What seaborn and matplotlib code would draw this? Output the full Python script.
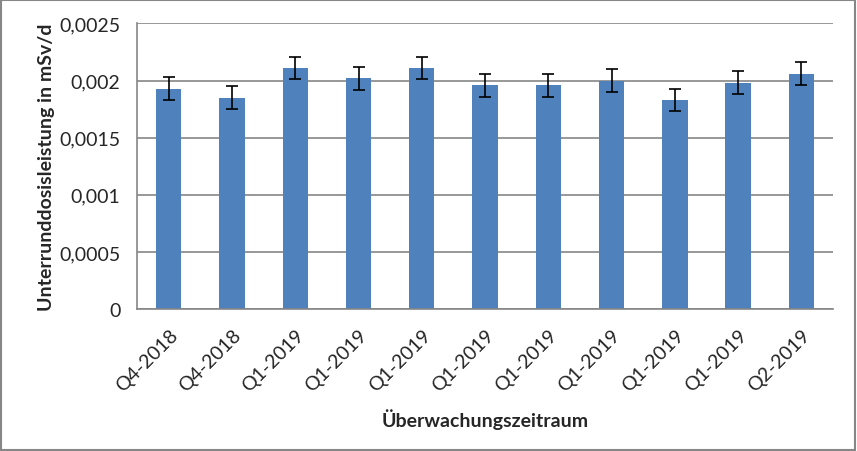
import matplotlib
matplotlib.use("Agg")
import matplotlib.pyplot as plt
import matplotlib.ticker as mticker
import pandas as pd
import seaborn as sns

# Werte
zeitraum = ["Q4-2018", "Q4-2018", "Q1-2019", "Q1-2019", "Q1-2019", "Q1-2019",
            "Q1-2019", "Q1-2019", "Q1-2019", "Q1-2019", "Q2-2019"]
dosis = [0.00193, 0.00185, 0.00211, 0.00202, 0.00211, 0.00196,
         0.00196, 0.00200, 0.00183, 0.00198, 0.00206]
fehler = [0.0001, 0.0001, 0.0001, 0.0001, 0.0001, 0.0001,
          0.0001, 0.0001, 0.0001, 0.0001, 0.0001]
y_ticks = [0, 0.0005, 0.001, 0.0015, 0.002, 0.0025]

df = pd.DataFrame({"pos": range(len(zeitraum)), "dosis": dosis, "fehler": fehler})

sns.set_style("white")
plt.rcParams["font.family"] = ["Lato", "DejaVu Sans"]

fig = plt.figure(figsize=(8.57, 4.52), dpi=100)
ax = fig.add_axes([0.160, 0.314, 0.812, 0.632])

sns.barplot(data=df, x="pos", y="dosis", color="#4F81BD", saturation=1,
            width=0.4, errorbar=None, linewidth=0, ax=ax)
ax.errorbar(df["pos"], df["dosis"], yerr=df["fehler"], fmt="none",
            ecolor="black", elinewidth=1.2, capsize=4, capthick=1.2)

ax.set_ylim(0, 0.0025)
ax.set_xlim(-0.5, len(zeitraum) - 0.5)
ax.set_yticks(y_ticks)
ax.yaxis.set_major_formatter(mticker.FuncFormatter(
    lambda v, p: "0" if v == 0 else f"{v:.4f}".rstrip("0").replace(".", ",")))
ax.yaxis.grid(True, color="#868686", linewidth=1.2)
ax.set_axisbelow(True)

ax.set_xticks(range(len(zeitraum)))
ax.set_xticklabels(zeitraum, rotation=45, ha="right", rotation_mode="anchor", fontsize=14)
ax.set_xticks([i - 0.5 for i in range(len(zeitraum) + 1)], minor=True)
ax.tick_params(axis="x", which="major", length=0, pad=12)
ax.tick_params(axis="x", which="minor", length=6, color="#868686", width=1.2)
ax.tick_params(axis="y", length=8, color="#868686", width=1.2, labelsize=14, pad=4)

for s in ["top", "right"]:
    ax.spines[s].set_visible(False)
for s in ["left", "bottom"]:
    ax.spines[s].set_color("#868686")
    ax.spines[s].set_linewidth(1.2)

ax.set_xlabel("Überwachungszeitraum", fontsize=14, fontweight="bold", labelpad=10)
ax.set_ylabel("Unterrunddosisleistung in mSv/d", fontsize=14, fontweight="bold", labelpad=3)

# Rahmen um die Grafik
fig.patches.append(plt.Rectangle((0.001, 0.002), 0.997, 0.995, transform=fig.transFigure,
                                 fill=False, edgecolor="#868686", linewidth=1.5))

fig.savefig("out.png", dpi=100)
